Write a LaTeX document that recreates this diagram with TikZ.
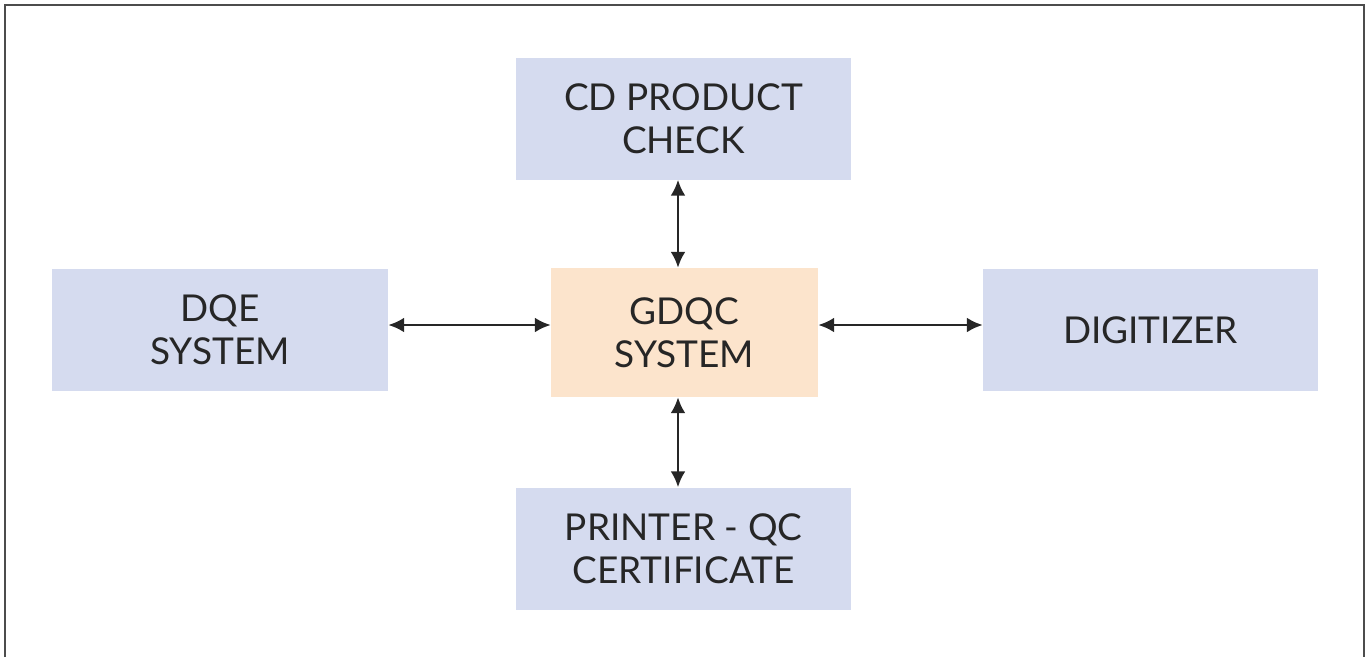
\documentclass[tikz,border=0pt]{standalone}
\usepackage{fontspec}
\setmainfont{Lato}
\usepackage{tikz}
\usetikzlibrary{arrows.meta}

\definecolor{boxblue}{RGB}{213,219,239}
\definecolor{boxpeach}{RGB}{252,228,204}

\begin{document}
\begin{tikzpicture}[x=1pt, y=-1pt,
block/.style={fill=boxblue, minimum width=335pt, minimum height=122pt, align=center,
  font=\fontsize{37}{43}\selectfont, text=black!85},
hub/.style={block, fill=boxpeach, minimum width=267pt, minimum height=129pt},
link/.style={{Latex[length=16pt,width=15pt]}-{Latex[length=16pt,width=15pt]}, line width=2.8pt, black!85}]
\useasboundingbox (0,0) rectangle (1367,657);
\draw[line width=2pt, black!70] (5,657) -- (5,5) -- (1364,5) -- (1364,657);

\node[hub] (gdqc) at (684.5,332.5) {GDQC\\SYSTEM};
\node[block] (cd) at (683.5,118.5) {CD PRODUCT\\CHECK};
\node[block, minimum width=336pt] (dqe) at (220,330) {DQE\\SYSTEM};
\node[block] (dig) at (1150.5,330) {DIGITIZER};
\node[block] (printer) at (683.5,548.5) {PRINTER - QC\\CERTIFICATE};

\coordinate (vline) at (678,0);
\coordinate (hline) at (0,325);
\draw[link] (cd.south -| vline) -- (gdqc.north -| vline);
\draw[link] (gdqc.south -| vline) -- (printer.north -| vline);
\draw[link] (dqe.east |- hline) -- (gdqc.west |- hline);
\draw[link] (gdqc.east |- hline) -- (dig.west |- hline);
\end{tikzpicture}
\end{document}
